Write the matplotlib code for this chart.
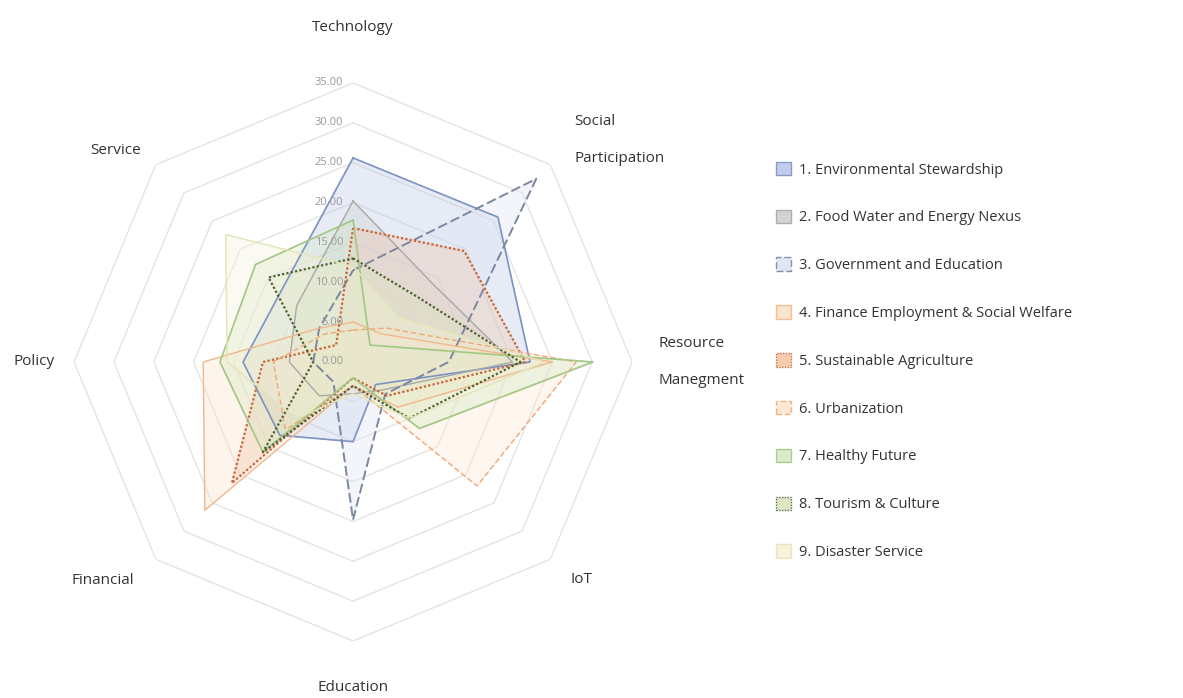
import numpy as np
import matplotlib
matplotlib.use('Agg')
import matplotlib.pyplot as plt
from matplotlib.patches import Patch

plt.rcParams['font.family'] = ['Open Sans', 'DejaVu Sans']

categories = ['Technology', 'Social\nParticipation', 'Resource\nManegment', 'IoT',
              'Education', 'Financial', 'Policy', 'Service']

series_names = ['1. Environmental Stewardship', '2. Food Water and Energy Nexus',
                '3. Government and Education', '4. Finance Employment & Social Welfare',
                '5. Sustainable Agriculture', '6. Urbanization', '7. Healthy Future',
                '8. Tourism & Culture', '9. Disaster Service']

env = [25.6, 25.7, 22.2, 4.0, 10.0, 13.0, 13.8, 12.7]
food = [20.2, 14.0, 20.0, 5.0, 4.0, 6.0, 8.0, 10.0]
gov = [11.5, 32.5, 12.0, 5.7, 19.8, 3.5, 5.0, 6.0]
finance = [5.0, 5.0, 25.0, 8.0, 3.0, 26.3, 18.8, 6.0]
agri = [16.8, 19.7, 21.6, 6.0, 2.0, 21.5, 11.3, 3.0]
urban = [4.0, 6.0, 28.0, 22.0, 3.0, 12.0, 10.0, 5.0]
health = [17.8, 3.0, 30.1, 11.8, 2.0, 16.0, 16.7, 17.3]
tourism = [13.0, 11.5, 21.0, 10.0, 3.0, 16.0, 5.0, 15.0]
disaster = [12.0, 8.0, 24.0, 10.0, 4.0, 10.0, 15.8, 22.6]

ring_values = [5, 10, 15, 20, 25, 30, 35]
tick_values = [0, 5, 10, 15, 20, 25, 30, 35]

all_series = [env, food, gov, finance, agri, urban, health, tourism, disaster]

# line colour, fill colour, line style, line width
styles = [
    ('#7d93c2', '#b9c7e8', '-', 1.2),
    ('#a9a9a9', '#cfcfcf', '-', 1.0),
    ('#7b87a0', '#dde4f1', (0, (5, 2)), 1.4),
    ('#f2b88c', '#fbe1c8', '-', 1.0),
    ('#c8643c', '#f3c7a8', (0, (1, 1)), 1.6),
    ('#f0a878', '#fde6d2', (0, (4, 2)), 1.0),
    ('#a3c784', '#d5e8c2', '-', 1.2),
    ('#4f5f33', '#dbe5bd', (0, (1, 1)), 1.6),
    ('#e3e5b8', '#f5f3da', '-', 1.0),
]

n = len(categories)
angles = np.linspace(0, 2 * np.pi, n, endpoint=False)
closed_angles = np.concatenate([angles, angles[:1]])

fig = plt.figure(figsize=(11.83, 6.98), dpi=100)
ax = fig.add_axes([0.0626, 0.0817, 0.4717, 0.7994], projection='polar')
ax.set_theta_zero_location('N')
ax.set_theta_direction(-1)
ax.set_ylim(0, 35)
ax.grid(False)
ax.set_xticks([])
ax.set_yticks([])
ax.spines['polar'].set_visible(False)
ax.patch.set_alpha(0)

# octagon rings
for r in ring_values:
    ax.plot(closed_angles, [r] * (n + 1), color='#e4e4e4', lw=1.0, zorder=1)

# data
for vals, (lc, fc, ls, lw) in zip(all_series, styles):
    v = list(vals) + [vals[0]]
    ax.fill(closed_angles, v, color=fc, alpha=0.35, zorder=2)
    ax.plot(closed_angles, v, color=lc, linestyle=ls, lw=lw, zorder=3)

# value labels along the top axis
for t in tick_values:
    ax.annotate('%.2f' % t, xy=(0, t), xytext=(-7, 0), textcoords='offset points',
                ha='right', va='center', fontsize=8, color='#9a9a9a', zorder=5)

# category labels: angle, radius, alignment
label_pos = [
    (0, 42.0, 'center'),
    (angles[1], 39.3, 'left'),
    (angles[2], 38.3, 'left'),
    (angles[3], 38.6, 'left'),
    (angles[4], 40.8, 'center'),
    (angles[5], 38.8, 'right'),
    (angles[6], 37.5, 'right'),
    (angles[7], 37.6, 'right'),
]
for name, (a, r, ha) in zip(categories, label_pos):
    ax.text(a, r, name, ha=ha, va='center', fontsize=11, color='#333333',
            linespacing=3.0, clip_on=False)

handles = [Patch(facecolor=fc, edgecolor=lc, linestyle=ls, linewidth=1.0, alpha=0.9)
           for (lc, fc, ls, lw) in styles]
fig.legend(handles, series_names, loc='upper left', bbox_to_anchor=(0.645, 0.787),
           frameon=False, fontsize=10.5, handlelength=1.05, handleheight=1.05,
           labelspacing=2.2, handletextpad=0.5, labelcolor='#333333')

fig.savefig('out.png', dpi=100, facecolor='white')
